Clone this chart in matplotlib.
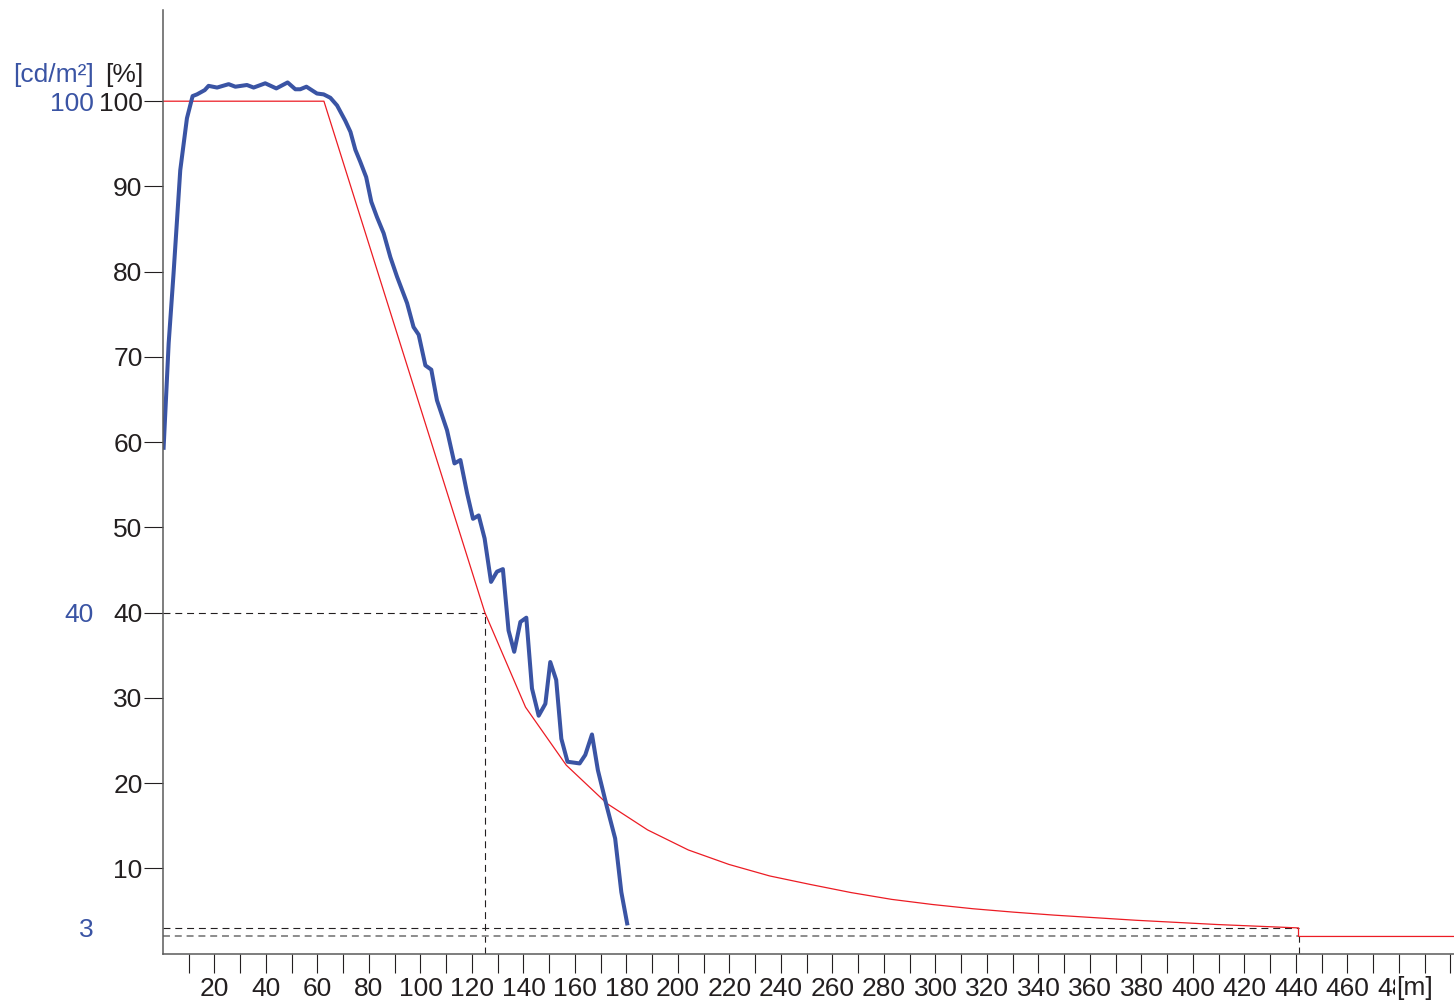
import matplotlib.pyplot as plt

plt.rcParams['font.family'] = ['Liberation Sans', 'DejaVu Sans']
plt.rcParams['lines.scale_dashes'] = False

# measured luminance (blue), distance [m] / percent
blue_x = [0.2, 2.2, 4.1, 6.7, 9.3, 11.5, 13.2, 16.2, 17.7, 21.0, 25.5, 28.1, 32.6, 35.2,
          39.7, 44.0, 48.4, 51.4, 53.3, 55.7, 59.8, 62.4, 65.0, 67.6, 70.8, 72.8, 74.7,
          76.6, 78.9, 80.9, 83.1, 85.7, 88.3, 90.9, 94.8, 97.3, 99.3, 101.9, 104.2, 106.4,
          110.3, 113.2, 115.5, 118.1, 120.4, 122.6, 124.9, 127.4, 129.7, 132.0, 134.2,
          136.4, 138.8, 141.1, 143.3, 145.9, 148.5, 150.4, 152.7, 154.7, 157.1, 161.8,
          164.0, 166.6, 168.9, 172.4, 175.6, 178.0, 180.4]
blue_y = [59.1, 71.6, 79.8, 91.9, 98.0, 100.6, 100.8, 101.3, 101.8, 101.6, 102.0, 101.7,
          101.9, 101.6, 102.1, 101.5, 102.2, 101.4, 101.4, 101.7, 100.9, 100.8, 100.4, 99.5,
          97.7, 96.4, 94.3, 92.9, 91.1, 88.2, 86.4, 84.5, 81.7, 79.4, 76.3, 73.5, 72.6,
          69.0, 68.5, 64.9, 61.4, 57.5, 57.9, 54.0, 51.0, 51.4, 48.7, 43.6, 44.8, 45.1,
          37.9, 35.4, 38.9, 39.4, 31.1, 27.9, 29.3, 34.2, 32.1, 25.2, 22.5, 22.3, 23.3,
          25.7, 21.5, 17.2, 13.5, 7.2, 3.3]

# required luminance curve (red)
red_x = [0, 62.5, 125, 140.8, 156.6, 172.4, 188.2, 204, 219.8, 235.6, 251.4, 267.2, 283,
         298.8, 314.6, 330.4, 346.2, 362, 377.8, 393.6, 409.4, 425.2, 441, 441, 501.5]
red_y = [100, 100, 40, 28.9, 22.1, 17.6, 14.5, 12.15, 10.45, 9.1, 8.1, 7.15, 6.35, 5.75,
         5.25, 4.85, 4.5, 4.2, 3.9, 3.65, 3.4, 3.2, 3.0, 2.0, 2.0]

x_ticks = list(range(10, 510, 10))
x_labels = [str(v) if v % 20 == 0 and v < 500 else '' for v in x_ticks]
y_ticks = [10, 20, 30, 40, 50, 60, 70, 80, 90, 100]
blue_marks = [100, 40, 3]

BLUE = '#3a54a4'
RED = '#ec1c24'
DARK = '#231f20'

fig = plt.figure(figsize=(14.54, 10.02), dpi=100)
ax = fig.add_axes([163 / 1454, 48.5 / 1002, 1291.3 / 1454, 943.5 / 1002])

# guide lines
ax.plot([0, 125], [40, 40], color=DARK, lw=0.8, dashes=(5, 3.5))
ax.plot([125, 125], [0, 40], color=DARK, lw=0.8, dashes=(5, 3.5))
ax.plot([0, 441], [3, 3], color=DARK, lw=0.8, dashes=(5, 3.5))
ax.plot([0, 441], [2, 2], color='#8c8c8c', lw=1.4, dashes=(5, 3.5))
ax.plot([441, 441], [0, 2], color=DARK, lw=0.8, dashes=(5, 3.5))

ax.plot(red_x, red_y, color=RED, lw=0.9)
ax.plot(blue_x, blue_y, color=BLUE, lw=2.9, solid_joinstyle='round', solid_capstyle='butt')

ax.set_xlim(0, 501.5)
ax.set_ylim(0, 110.7)

for s in ['top', 'right']:
    ax.spines[s].set_visible(False)
for s in ['left', 'bottom']:
    ax.spines[s].set_color('#5a5a5a')
    ax.spines[s].set_linewidth(1.1)

ax.set_xticks(x_ticks)
ax.set_xticklabels(x_labels)
ax.set_yticks(y_ticks)
ax.set_yticklabels([str(v) for v in y_ticks])
ax.tick_params(axis='y', length=13.7, width=0.8, pad=1, labelsize=19, colors=DARK)
ax.tick_params(axis='x', length=13.7, width=0.8, pad=3, labelsize=19, colors=DARK)
for t in ax.xaxis.get_ticklines():
    t.set_color('#444444')

for v in blue_marks:
    ax.annotate(str(v), xy=(0, v), xytext=(-49.7, 0), textcoords='offset points',
                ha='right', va='center_baseline', fontsize=19, color=BLUE,
                annotation_clip=False)

ax.annotate('[cd/m²]', xy=(0, 100), xytext=(-49.7, 21), textcoords='offset points',
            ha='right', va='center_baseline', fontsize=19, color=BLUE, annotation_clip=False)
ax.annotate('[%]', xy=(0, 100), xytext=(-14, 21), textcoords='offset points',
            ha='right', va='center_baseline', fontsize=19, color=DARK, annotation_clip=False)

# axis unit sits on top of the 480 label, as in the original
ax.annotate('[m]', xy=(486, 0), xytext=(0, -25), textcoords='offset points',
            ha='center', va='center', fontsize=19, color=DARK, annotation_clip=False,
            bbox=dict(facecolor='white', edgecolor='none', pad=0.5), zorder=10)

fig.savefig('out.png', dpi=100)
